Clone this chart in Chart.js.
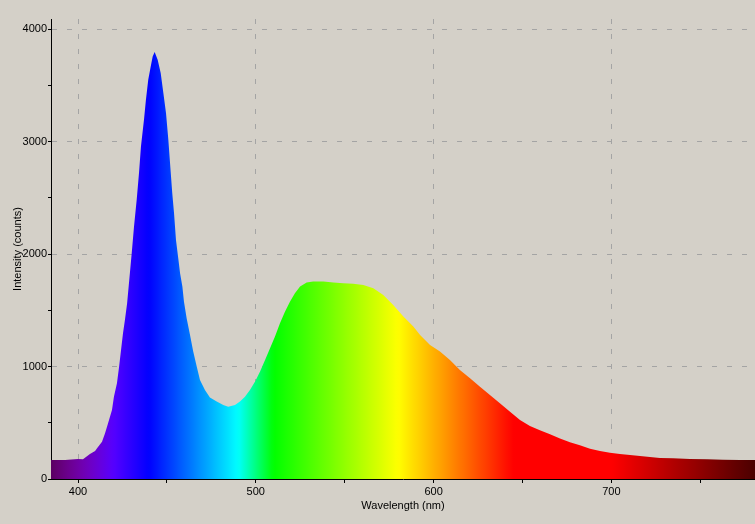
<!DOCTYPE html>
<html>
<head>
<meta charset="utf-8">
<script src="https://cdn.jsdelivr.net/npm/chart.js@4/dist/chart.umd.min.js"></script>
<style>
  body { margin: 0; background: #d4d0c8; }
  canvas { display: block; }
</style>
</head>
<body>
<canvas id="spectrumChart" width="755" height="524"></canvas>
<script>
// wavelength (nm) and intensity (counts)
const wavelengths = [
    384.8, 392.7, 400.0, 402.8, 406.7, 409.6, 410.7, 413.5, 415.2, 416.9,
    419.1, 420.2, 421.9, 423.1, 424.2, 425.3, 426.4, 427.6, 430.2, 431.5,
    433.0, 434.3, 435.4, 437.1, 438.2, 439.5, 440.9, 442.0, 443.1, 444.8,
    446.5, 448.0, 449.5, 450.8, 451.9, 453.0, 454.0, 455.1, 456.4, 457.4,
    458.7, 459.6, 461.1, 463.0, 464.8, 466.8, 468.6, 471.4, 474.2, 478.0,
    481.7, 484.5, 488.3, 491.1, 493.9, 496.7, 499.6, 502.4, 505.2, 508.0,
    510.8, 513.6, 516.4, 519.2, 522.0, 524.9, 528.6, 532.3, 538.0, 543.6,
    549.2, 554.8, 560.5, 566.1, 571.7, 577.3, 583.0, 588.6, 592.4, 598.0,
    603.6, 609.2, 614.8, 620.5, 626.1, 631.7, 637.3, 643.0, 648.6, 654.2,
    659.8, 665.5, 671.1, 676.7, 682.3, 688.0, 693.6, 699.2, 704.8, 710.5,
    716.1, 721.7, 727.3, 734.6, 744.2, 753.8, 762.8, 772.3, 780.8
];
const intensity = [
    169, 169, 178, 175, 222, 250, 273, 332, 406, 495,
    614, 732, 851, 999, 1148, 1296, 1415, 1560, 2008, 2245,
    2482, 2720, 2956, 3194, 3372, 3550, 3668, 3757, 3796, 3728,
    3609, 3431, 3253, 3016, 2778, 2542, 2364, 2126, 1960, 1830,
    1711, 1577, 1430, 1281, 1133, 999, 881, 792, 724, 688,
    658, 643, 658, 688, 732, 792, 866, 955, 1059, 1163,
    1266, 1385, 1488, 1577, 1652, 1711, 1747, 1756, 1756, 1747,
    1741, 1735, 1726, 1697, 1637, 1548, 1444, 1355, 1281, 1192,
    1133, 1059, 970, 896, 821, 747, 673, 599, 525, 472,
    433, 397, 359, 326, 300, 270, 249, 234, 222, 214,
    205, 196, 187, 184, 178, 175, 172, 169, 169
];
// major ticks get a label and a grid line, minor ones only a tick mark
const xTicks = [400, 450, 500, 550, 600, 650, 700, 750];
const xLabels = [400, 500, 600, 700];
const yTicks = [0, 500, 1000, 1500, 2000, 2500, 3000, 3500, 4000];
const yLabels = [0, 1000, 2000, 3000, 4000];
const xMin = 384.8;
const xMax = 780.8;
const yMax = 4090;

// wavelength -> visible colour
function waveColor(w) {
    let r = 0, g = 0, b = 0;
    if (w < 440) { r = (440 - w) / 60; b = 1; }
    else if (w < 490) { g = (w - 440) / 50; b = 1; }
    else if (w < 510) { g = 1; b = (510 - w) / 20; }
    else if (w < 580) { r = (w - 510) / 70; g = 1; }
    else if (w < 645) { r = 1; g = (645 - w) / 65; }
    else { r = 1; }
    let f = 1;
    if (w < 420) f = 0.3 + 0.7 * (w - 380) / 40;
    else if (w > 700) f = 0.3 + 0.7 * (780 - w) / 80;
    const c = v => Math.round(255 * Math.max(0, Math.min(1, v * f)));
    return 'rgb(' + c(r) + ',' + c(g) + ',' + c(b) + ')';
}

function spectrumFill(context) {
    const chart = context.chart;
    const area = chart.chartArea;
    if (!area) return 'transparent';
    const xs = chart.scales.x;
    const grad = chart.ctx.createLinearGradient(area.left, 0, area.right, 0);
    for (let w = xMin; w <= xMax; w += 2) {
        const p = (xs.getPixelForValue(w) - area.left) / (area.right - area.left);
        grad.addColorStop(Math.max(0, Math.min(1, p)), waveColor(w));
    }
    return grad;
}

const tickFont = { family: 'Liberation Sans', size: 11 };
const gridGray = '#a4a4a4';

new Chart(document.getElementById('spectrumChart').getContext('2d'), {
    type: 'line',
    data: {
        datasets: [{
            data: wavelengths.map((w, i) => ({ x: w, y: intensity[i] })),
            backgroundColor: spectrumFill,
            borderWidth: 0,
            pointRadius: 0,
            fill: 'origin',
            tension: 0
        }]
    },
    options: {
        responsive: false,
        animation: false,
        layout: { padding: { top: 19, right: 0, left: 0, bottom: 0 } },
        plugins: { legend: { display: false }, tooltip: { enabled: false } },
        scales: {
            x: {
                type: 'linear',
                min: xMin,
                max: xMax,
                afterBuildTicks: s => { s.ticks = xTicks.map(v => ({ value: v })); },
                afterFit: s => { s.height = 45; },
                border: { color: '#000', width: 1, dash: [5, 10] },
                grid: {
                    color: c => (c.tick && xLabels.includes(c.tick.value)) ? gridGray : 'transparent',
                    tickColor: '#000',
                    tickLength: 4
                },
                ticks: {
                    maxRotation: 0,
                    autoSkip: false,
                    padding: 2,
                    color: '#000',
                    font: tickFont,
                    callback: v => xLabels.includes(v) ? String(v) : ''
                },
                title: {
                    display: true,
                    text: 'Wavelength (nm)',
                    color: '#000',
                    font: tickFont,
                    padding: { top: 0, bottom: 11 }
                }
            },
            y: {
                min: 0,
                max: yMax,
                afterBuildTicks: s => { s.ticks = yTicks.map(v => ({ value: v })); },
                afterFit: s => { s.width = 51; },
                border: { color: '#000', width: 1, dash: [5, 10] },
                grid: {
                    color: c => (c.tick && c.tick.value > 0 && yLabels.includes(c.tick.value)) ? gridGray : 'transparent',
                    tickColor: '#000',
                    tickLength: 3
                },
                ticks: {
                    autoSkip: false,
                    padding: 1,
                    color: '#000',
                    font: tickFont,
                    callback: v => yLabels.includes(v) ? String(v) : ''
                },
                title: {
                    display: true,
                    text: 'Intensity (counts)',
                    color: '#000',
                    font: tickFont,
                    padding: { top: 11, bottom: 0 }
                }
            }
        }
    }
});
</script>
</body>
</html>
